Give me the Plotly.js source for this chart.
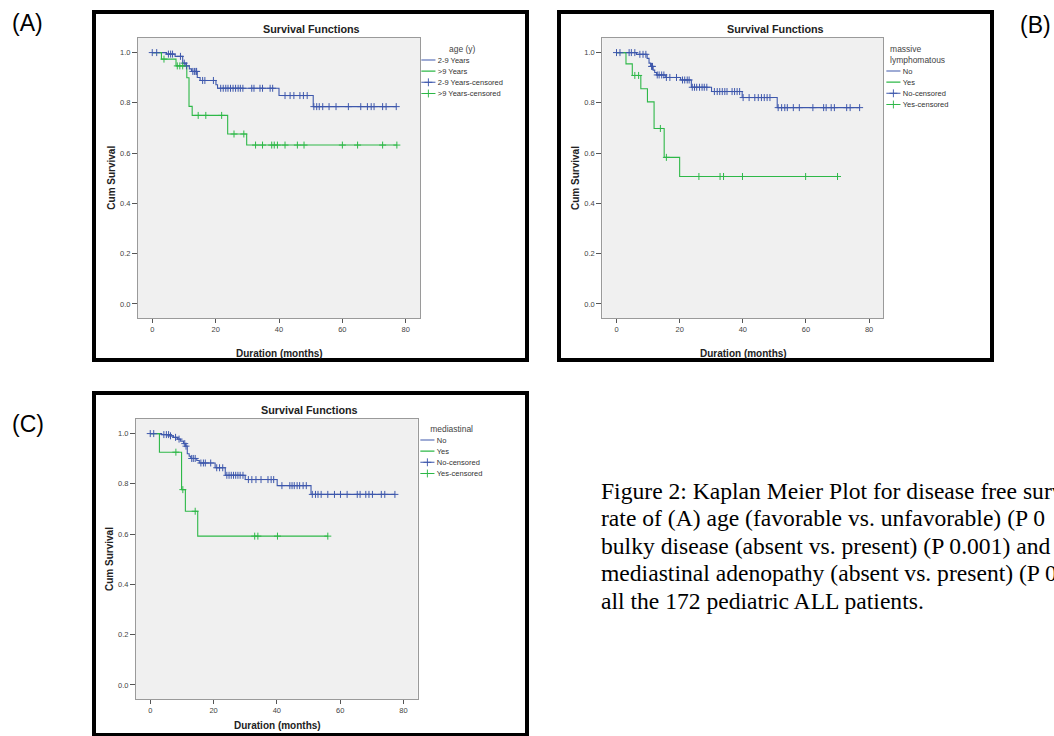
<!DOCTYPE html>
<html>
<head>
<meta charset="utf-8">
<script src="https://cdn.plot.ly/plotly-3.0.1.min.js"></script>
<style>
html,body{margin:0;padding:0;width:1054px;height:736px;overflow:hidden;background:#fff;}
#chart{position:absolute;left:0;top:0;width:1054px;height:736px;}
#caption{position:absolute;left:601px;top:477.5px;font-family:"Liberation Serif","Times New Roman",serif;font-size:23.6px;line-height:27.5px;white-space:nowrap;color:#000;}
</style>
</head>
<body>
<div id="chart"></div>
<div id="caption">Figure 2: Kaplan Meier Plot for disease free survival<br>rate of (A) age (favorable vs. unfavorable) (P 0<br>bulky disease (absent vs. present) (P 0.001) and<br>mediastinal adenopathy (absent vs. present) (P 0<br>all the 172 pediatric ALL patients.</div>
<script>
// ---------------- DATA ----------------
// Panel A: age (y)
const A_legendTitle = "age (y)";
const A_groups = ["2-9 Years", ">9 Years"];
const A_g1_eventTimes = [4.5, 7.2, 9.6, 10.6, 11.7, 12.4, 14.2, 15.1, 20.1, 20.6, 40.0, 50.8];
const A_g1_survival   = [0.994, 0.985, 0.958, 0.947, 0.935, 0.925, 0.901, 0.889, 0.872, 0.858, 0.829, 0.785];
const A_g1_censored   = [0, 1.4, 5.1, 5.8, 6.4, 8.9, 10.1, 10.8, 12.8, 13.3, 13.8, 14.0, 15.9, 16.6, 19.3, 21.6, 22.4, 23.2, 23.9, 24.7, 25.5, 26.3, 27.1, 27.8, 28.6, 31.4, 32.1, 34.0, 34.8, 37.2, 38.0, 41.9, 43.5, 44.7, 46.6, 47.7, 48.9, 51.0, 51.9, 52.7, 53.8, 55.8, 58.0, 61.9, 65.8, 67.9, 69.1, 70.0, 72.7, 73.8, 77.0];
const A_g2_eventTimes = [2.9, 7.5, 10.9, 11.6, 12.6, 23.8, 29.8];
const A_g2_survival   = [0.974, 0.947, 0.900, 0.786, 0.750, 0.676, 0.632];
const A_g2_censored   = [3.7, 7.9, 8.7, 9.6, 14.5, 16.9, 21.9, 25.8, 28.9, 32.6, 34.8, 37.7, 38.5, 39.5, 41.9, 45.8, 47.9, 60.0, 64.8, 72.7, 77.2];

// Panel B: massive lymphomatous
const B_legendTitle = "massive<br>lymphomatous";
const B_groups = ["No", "Yes"];
const B_g1_eventTimes = [6.3, 9.7, 10.3, 10.8, 11.6, 12.1, 12.7, 15.6, 20.3, 23.7, 30.1, 39.8, 50.9];
const B_g1_survival   = [0.993, 0.977, 0.958, 0.945, 0.930, 0.921, 0.911, 0.901, 0.891, 0.862, 0.845, 0.821, 0.781];
const B_g1_censored   = [0, 1.1, 4.0, 4.7, 5.8, 7.4, 8.4, 9.3, 11.1, 11.4, 12.9, 13.5, 14.3, 15.0, 15.8, 16.9, 19.0, 20.9, 21.6, 22.4, 23.0, 24.0, 24.7, 25.4, 26.3, 27.1, 27.8, 28.6, 31.0, 31.9, 32.7, 33.5, 34.3, 35.0, 36.6, 37.4, 38.2, 39.0, 40.1, 42.0, 43.8, 44.9, 45.9, 46.8, 47.7, 48.6, 51.2, 52.3, 53.3, 54.1, 56.0, 57.9, 62.2, 65.6, 66.4, 68.0, 69.0, 72.9, 74.0, 77.0];
const B_g2_eventTimes = [3.0, 5.0, 7.7, 9.8, 11.9, 15.1, 20.0];
const B_g2_survival   = [0.955, 0.909, 0.856, 0.804, 0.698, 0.583, 0.507];
const B_g2_censored   = [5.8, 7.0, 13.9, 15.8, 26.1, 32.8, 33.9, 39.9, 59.9, 70.0];

// Panel C: mediastinal
const C_legendTitle = "mediastinal";
const C_groups = ["No", "Yes"];
const C_g1_eventTimes = [3.6, 6.2, 7.3, 8.6, 9.6, 10.5, 11.2, 11.7, 12.3, 12.8, 14.7, 15.5, 20.5, 23.7, 30.0, 40.1, 50.8];
const C_g1_survival   = [0.996, 0.991, 0.985, 0.978, 0.970, 0.960, 0.950, 0.920, 0.910, 0.901, 0.893, 0.883, 0.864, 0.834, 0.817, 0.793, 0.758];
const C_g1_censored   = [0, 1.1, 4.3, 5.1, 5.8, 6.4, 8.0, 9.1, 10.9, 11.3, 13.1, 13.6, 14.2, 16.0, 16.8, 17.4, 19.1, 21.0, 21.9, 22.9, 24.2, 24.9, 25.6, 26.3, 27.0, 27.7, 28.4, 29.3, 31.0, 32.1, 33.4, 35.0, 37.2, 38.2, 39.0, 41.6, 44.1, 44.8, 45.5, 46.4, 47.2, 48.3, 49.3, 51.2, 52.2, 53.0, 54.0, 56.1, 58.2, 60.1, 62.2, 65.4, 66.3, 68.1, 69.1, 70.2, 73.0, 74.1, 77.3];
const C_g2_eventTimes = [2.9, 9.9, 11.1, 15.0];
const C_g2_survival   = [0.926, 0.777, 0.691, 0.592];
const C_g2_censored   = [8.1, 10.3, 14.2, 33.0, 34.0, 40.2, 56.1];

const xTickVals = [0, 20, 40, 60, 80];
const yTickVals = [0, 0.2, 0.4, 0.6, 0.8, 1.0];
const chartTitle = "Survival Functions";
const xTitle = "Duration (months)";
const yTitle = "Cum Survival";
const panelLabels = ["(A)", "(B)", "(C)"];

// ---------------- BUILD ----------------
const W = 1054, H = 736;
const px = v => v / W;
const py = v => 1 - v / H;
const BLUE = "#3E58AC", GREEN = "#2EB848";
const FONT = "Liberation Sans, Arial, sans-serif";

function survAt(t, evT, evS) {
  let s = 1;
  for (let i = 0; i < evT.length; i++) if (evT[i] <= t) s = evS[i];
  return s;
}
function curve(evT, evS, cens) {
  const end = Math.max(...cens, ...evT);
  const x = [0].concat(evT, [end]);
  const y = [1].concat(evS, [evS[evS.length - 1]]);
  return {x, y};
}
function censorPts(cens, evT, evS) {
  const x = [], y = [];
  cens.forEach(t => { x.push(t, null); y.push(survAt(t, evT, evS), null); });
  return {x, y};
}

const panels = [
  {groups: A_groups, g: [[A_g1_eventTimes, A_g1_survival, A_g1_censored], [A_g2_eventTimes, A_g2_survival, A_g2_censored]], ax: "", leg: "legend"},
  {groups: B_groups, g: [[B_g1_eventTimes, B_g1_survival, B_g1_censored], [B_g2_eventTimes, B_g2_survival, B_g2_censored]], ax: "2", leg: "legend2"},
  {groups: C_groups, g: [[C_g1_eventTimes, C_g1_survival, C_g1_censored], [C_g2_eventTimes, C_g2_survival, C_g2_censored]], ax: "3", leg: "legend3"}
];
const colors = [BLUE, GREEN];
const data = [];
panels.forEach(p => {
  p.g.forEach((gr, i) => {
    const c = curve(gr[0], gr[1], gr[2]);
    data.push({type: "scatter", mode: "lines", x: c.x, y: c.y, name: p.groups[i],
      line: {shape: "hv", color: colors[i], width: 1.1},
      xaxis: "x" + p.ax, yaxis: "y" + p.ax, legend: p.leg, hoverinfo: "skip"});
  });
  p.g.forEach((gr, i) => {
    const c = censorPts(gr[2], gr[0], gr[1]);
    data.push({type: "scatter", mode: "lines+markers", x: c.x, y: c.y, name: p.groups[i] + "-censored",
      connectgaps: false,
      line: {color: colors[i], width: 1.1},
      marker: {symbol: "cross-thin", size: 5, color: colors[i], line: {color: colors[i], width: 1}},
      xaxis: "x" + p.ax, yaxis: "y" + p.ax, legend: p.leg, hoverinfo: "skip"});
  });
});

function xAxis(d0, d1, anchor) {
  return {domain: [px(d0), px(d1)], range: [-4.5, 84.5], anchor: anchor, tickvals: xTickVals,
    ticks: "outside", ticklen: 4, tickwidth: 1, tickcolor: "#555", showline: true, mirror: true,
    linecolor: "#9a9a9a", linewidth: 1, showgrid: false, zeroline: false,
    tickfont: {family: FONT, size: 7.5, color: "#444"}, fixedrange: true};
}
function yAxis(top, bottom, anchor) {
  return {domain: [py(bottom), py(top)], range: [-0.056, 1.058], anchor: anchor, tickvals: yTickVals,
    tickformat: ".1f", ticks: "outside", ticklen: 5, tickwidth: 1, tickcolor: "#555", showline: true, mirror: true,
    linecolor: "#9a9a9a", linewidth: 1, showgrid: false, zeroline: false,
    tickfont: {family: FONT, size: 7.5, color: "#444"}, fixedrange: true};
}

const legendBase = (x, y, title) => ({
  x: px(x), y: py(y), xanchor: "left", yanchor: "top", xref: "paper", yref: "paper",
  bgcolor: "rgba(0,0,0,0)", borderwidth: 0, itemsizing: "constant", itemwidth: 30,
  font: {family: FONT, size: 16, color: "#333"},
  title: {text: title, side: "top center", font: {family: FONT, size: 18, color: "#444"}},
  traceorder: "normal"
});

const ann = [];
function textAnn(text, x, y, size, opts) {
  ann.push(Object.assign({text, x: px(x), y: py(y), xref: "paper", yref: "paper", showarrow: false,
    xanchor: "center", yanchor: "middle", font: {family: FONT, size, color: "#222"}}, opts || {}));
}
// titles
textAnn("<b>" + chartTitle + "</b>", 311, 29, 10.8);
textAnn("<b>" + chartTitle + "</b>", 775, 29, 10.8);
textAnn("<b>" + chartTitle + "</b>", 309.5, 410, 10.8);
// axis titles
textAnn("<b>" + xTitle + "</b>", 279, 353, 10);
textAnn("<b>" + xTitle + "</b>", 743, 353, 10);
textAnn("<b>" + xTitle + "</b>", 277, 725, 10);
textAnn("<b>" + yTitle + "</b>", 110.7, 178, 10, {textangle: -90});
textAnn("<b>" + yTitle + "</b>", 575, 178, 10, {textangle: -90});
textAnn("<b>" + yTitle + "</b>", 109, 559, 10, {textangle: -90});
// panel labels
textAnn(panelLabels[0], 27.5, 23, 23, {font: {family: FONT, size: 23, color: "#000"}});
textAnn(panelLabels[1], 1035, 25, 23, {font: {family: FONT, size: 23, color: "#000"}});
textAnn(panelLabels[2], 27.5, 424, 23, {font: {family: FONT, size: 23, color: "#000"}});

const frame = (x0, y0, x1, y1) => ({type: "rect", xref: "paper", yref: "paper",
  x0: px(x0), x1: px(x1), y0: py(y1), y1: py(y0), line: {color: "#000", width: 4}, fillcolor: "rgba(0,0,0,0)", layer: "above"});

const layout = {
  width: W, height: H,
  margin: {l: 0, r: 0, t: 0, b: 0, autoexpand: false},
  paper_bgcolor: "#fff", plot_bgcolor: "#f0f0f0",
  font: {family: FONT},
  showlegend: true,
  xaxis: xAxis(138, 420, "y"), yaxis: yAxis(38, 318, "x"),
  xaxis2: xAxis(602.3, 883.3, "y2"), yaxis2: yAxis(38, 318, "x2"),
  xaxis3: xAxis(136, 417.7, "y3"), yaxis3: yAxis(419, 699, "x3"),
  legend: legendBase(419, 41, A_legendTitle),
  legend2: legendBase(884, 41, B_legendTitle),
  legend3: legendBase(418, 421, C_legendTitle),
  annotations: ann,
  shapes: [frame(94, 12, 527, 360), frame(559, 12, 992, 360), frame(94, 393, 527, 735)]
};

const LEG_SCALE = 0.47;
Plotly.newPlot("chart", data, layout, {staticPlot: true, displayModeBar: false}).then(gd => {
  ["legend", "legend2", "legend3"].forEach(id => {
    const g = gd.querySelector("g." + id);
    if (!g) return;
    const t = g.getAttribute("transform") || "";
    g.setAttribute("transform", t + " scale(" + LEG_SCALE + ")");
    g.querySelectorAll("g.legendlines path").forEach(p => { p.style.strokeWidth = "2.2px"; });
  });
});
</script>
</body>
</html>
